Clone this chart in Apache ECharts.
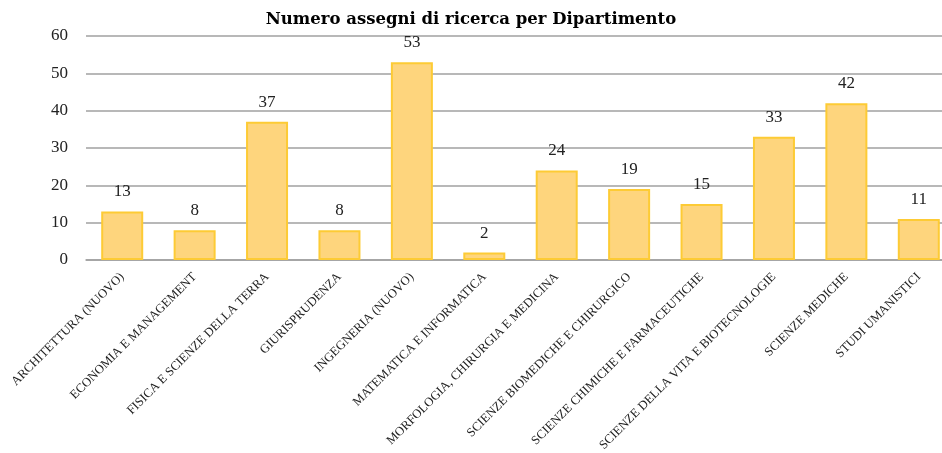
<!DOCTYPE html>
<html><head><meta charset="utf-8">
<script src="https://cdn.jsdelivr.net/npm/echarts@6/dist/echarts.min.js"></script>
<style>html,body{margin:0;padding:0;background:#fff}#c{width:942px;height:453px}</style>
</head><body><div id="c"></div>
<script>
const categories = ["ARCHITETTURA (NUOVO)","ECONOMIA E MANAGEMENT","FISICA E SCIENZE DELLA TERRA","GIURISPRUDENZA","INGEGNERIA (NUOVO)","MATEMATICA E INFORMATICA","MORFOLOGIA, CHIRURGIA E MEDICINA","SCIENZE BIOMEDICHE E CHIRURGICO","SCIENZE CHIMICHE E FARMACEUTICHE","SCIENZE DELLA VITA E BIOTECNOLOGIE","SCIENZE MEDICHE","STUDI UMANISTICI"];
const values = [13,8,37,8,53,2,24,19,15,33,42,11];
const yTicks = [0,10,20,30,40,50,60];
const font = "'Liberation Serif','DejaVu Serif',serif";
const chart = echarts.init(document.getElementById('c'));
chart.setOption({
  animation:false,
  title:{text:"Numero assegni di ricerca per Dipartimento",left:'center',top:6,
    textStyle:{fontFamily:"'DejaVu Serif',serif",fontWeight:'bold',fontSize:16.5,color:'#000'}},
  grid:{left:86,width:869,top:36,height:224,containLabel:false,outerBoundsMode:'none'},
  xAxis:{type:'category',data:categories,
    axisLine:{lineStyle:{color:'#a0a0a0',width:1.5}},axisTick:{show:false},
    axisLabel:{interval:0,rotate:45,fontFamily:font,fontSize:12.6,color:'#222',margin:15}},
  yAxis:{type:'value',min:yTicks[0],max:yTicks[yTicks.length-1],interval:10,
    axisLine:{show:false},axisTick:{show:false},
    axisLabel:{fontFamily:font,fontSize:17,color:'#222',margin:18},
    splitLine:{lineStyle:{color:'#a0a0a0',width:1.5}}},
  series:[{type:'bar',data:values,barWidth:'58%',
    itemStyle:{color:'#FED57D',borderColor:'#FDCB35',borderWidth:2},
    label:{show:true,position:'top',distance:11,fontFamily:font,fontSize:17,color:'#222'}}]
});
</script></body></html>
